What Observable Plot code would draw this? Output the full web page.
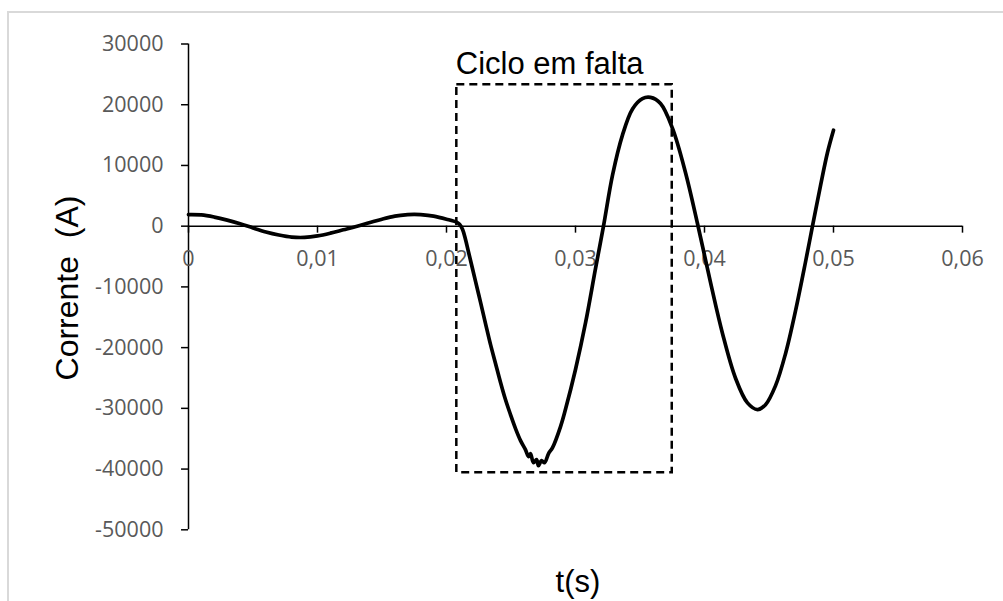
<!DOCTYPE html>
<html>
<head>
<meta charset="utf-8">
<script src="https://cdn.jsdelivr.net/npm/d3@7"></script>
<script src="https://cdn.jsdelivr.net/npm/@observablehq/plot@0.6"></script>
<style>
  html, body { margin: 0; padding: 0; background: #fff; }
  #wrap { position: relative; width: 1003px; height: 601px; overflow: hidden; }
  #frame { position: absolute; left: 7px; top: 11px; width: 1100px; height: 700px;
           border-left: 2px solid #d9d9d9; border-top: 2px solid #d9d9d9; }
  #chart { position: absolute; left: 0; top: 0; }
  .title { position: absolute; font-family: "Liberation Sans", Arial, sans-serif;
           font-size: 31px; color: #000; white-space: pre; }
  #ytitle { left: 67px; top: 288px; font-size: 32px; transform: translate(-50%, -50%) rotate(-90deg); }
  #xtitle { left: 578px; top: 582px; transform: translate(-50%, -50%); }
</style>
</head>
<body>
<div id="wrap">
  <div id="frame"></div>
  <div id="chart"></div>
  <div class="title" id="ytitle">Corrente  (A)</div>
  <div class="title" id="xtitle">t(s)</div>
</div>
<script>
// Instants (s) of the recorded current waveform
const timeValues = [
  0, 0.001, 0.002, 0.003, 0.004, 0.005, 0.006, 0.007, 0.008, 0.009,
  0.010, 0.011, 0.012, 0.013, 0.014, 0.015, 0.016, 0.017, 0.0175, 0.018,
  0.019, 0.020, 0.02078, 0.02101, 0.02124, 0.02147, 0.02171, 0.02225, 0.02264, 0.02302,
  0.02341, 0.02380, 0.02419, 0.02457, 0.02496, 0.02535, 0.02574, 0.02612, 0.02636, 0.02651,
  0.02674, 0.02698, 0.02713, 0.02736, 0.02760, 0.02791, 0.02822, 0.02884, 0.02922, 0.03000,
  0.03078, 0.03155, 0.03217, 0.03287, 0.03364, 0.03442, 0.03519, 0.03581, 0.03659, 0.03752,
  0.03853, 0.03946, 0.04047, 0.04140, 0.04240, 0.04333, 0.04411, 0.04473, 0.04550, 0.04628,
  0.04705, 0.04783, 0.04837, 0.04899, 0.04953, 0.05
];

// Current (A) at each instant
const currentValues = [
  1900, 1850, 1500, 1000, 400, -300, -950, -1450, -1800, -1850,
  -1600, -1150, -600, -50, 550, 1150, 1650, 1900, 1950, 1900,
  1650, 1150, 660, 330, -500, -2150, -4290, -9080, -12540, -16000,
  -19470, -22600, -25740, -28550, -31020, -33330, -35310, -36800, -37950, -37450,
  -38940, -38450, -39440, -38610, -38940, -37450, -36470, -33000, -30200, -23600,
  -15900, -7000, 0, 8400, 15000, 19300, 21000, 21200, 20200, 16100,
  8800, 400, -9300, -17700, -25000, -29100, -30200, -29400, -26300, -21000,
  -14000, -5900, 0, 6650, 12100, 15800
];

// Axis ticks and their labels
const xTicks = [0, 0.01, 0.02, 0.03, 0.04, 0.05, 0.06];
const xTickLabels = ["0", "0,01", "0,02", "0,03", "0,04", "0,05", "0,06"];
const yTicks = [30000, 20000, 10000, 0, -10000, -20000, -30000, -40000, -50000];
const yTickLabels = ["30000", "20000", "10000", "0", "-10000", "-20000", "-30000", "-40000", "-50000"];

// Window marking the faulted cycle
const faultWindow = [{t1: 0.0208, t2: 0.0375, i1: -40600, i2: 23300, label: "Ciclo em falta"}];

const series = timeValues.map((t, k) => ({t, i: currentValues[k]}));

const tickFont = {fontFamily: "'Open Sans', 'DejaVu Sans', sans-serif", fontSize: 21.5, fill: "#595959"};

const chart = Plot.plot({
  width: 1003,
  height: 601,
  marginLeft: 188,
  marginRight: 41,
  marginTop: 43.5,
  marginBottom: 71.7,
  x: {domain: [0, 0.06], axis: null},
  y: {domain: [-50000, 30000], axis: null},
  style: {background: "transparent", overflow: "visible"},
  marks: [
    // vertical axis with outward ticks
    Plot.ruleX([0], {y1: -50000, y2: 30000, stroke: "#000", strokeWidth: 1.5}),
    Plot.ruleY(yTicks, {x1: -0.00054, x2: 0, stroke: "#000", strokeWidth: 1.5}),
    // horizontal axis through zero with downward ticks
    Plot.ruleY([0], {x1: 0, x2: 0.06, stroke: "#000", strokeWidth: 1.5}),
    Plot.ruleX(xTicks, {y1: 0, y2: -1150, stroke: "#000", strokeWidth: 1.5}),
    Plot.text(xTicks, {x: d => d, y: 0, text: (d, k) => xTickLabels[k], dy: 33, lineAnchor: "middle", ...tickFont}),
    Plot.text(yTicks, {x: 0, y: d => d, text: (d, k) => yTickLabels[k], textAnchor: "end", dx: -25, lineAnchor: "middle", ...tickFont}),
    // current waveform
    Plot.line(series, {x: "t", y: "i", stroke: "#000", strokeWidth: 3.7, curve: "catmull-rom", strokeLinejoin: "round", strokeLinecap: "round"}),
    // faulted cycle window
    Plot.rect(faultWindow, {x1: "t1", x2: "t2", y1: "i1", y2: "i2", fill: "none", stroke: "#000", strokeWidth: 2.5, strokeDasharray: "8,5"}),
    Plot.text(faultWindow, {x: "t1", y: "i2", text: "label", textAnchor: "start", lineAnchor: "bottom", dy: -11, dx: -1,
      fontFamily: "'Liberation Sans', Arial, sans-serif", fontSize: 31, fill: "#000"})
  ]
});

document.getElementById("chart").appendChild(chart);
</script>
</body>
</html>
